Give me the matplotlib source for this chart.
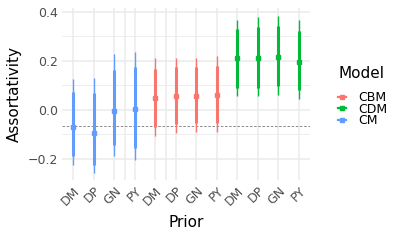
import numpy as np
import matplotlib.pyplot as plt
from matplotlib.lines import Line2D

# dados
priors = ["DM", "DP", "GN", "PY"] * 3
models = ["CM"] * 4 + ["CBM"] * 4 + ["CDM"] * 4
medians = [-0.068, -0.095, -0.003, 0.003,
           0.048, 0.055, 0.055, 0.059,
           0.210, 0.212, 0.216, 0.197]
inner_lo = [-0.187, -0.224, -0.143, -0.154,
            -0.068, -0.057, -0.054, -0.054,
            0.091, 0.091, 0.096, 0.080]
inner_hi = [0.075, 0.068, 0.163, 0.175,
            0.168, 0.173, 0.173, 0.180,
            0.330, 0.337, 0.341, 0.323]
outer_lo = [-0.224, -0.258, -0.188, -0.204,
            -0.106, -0.095, -0.091, -0.090,
            0.055, 0.055, 0.059, 0.044]
outer_hi = [0.127, 0.132, 0.229, 0.235,
            0.210, 0.213, 0.210, 0.221,
            0.368, 0.380, 0.385, 0.366]
ref_line = -0.064

cores = {"CBM": "#F8766D", "CDM": "#00BA38", "CM": "#619CFF"}

fig = plt.figure(figsize=(4, 2.4), dpi=100)
ax = fig.add_axes([0.155, 0.25, 0.62, 0.717])

x = np.arange(len(priors))
for i in x:
    c = cores[models[i]]
    ax.plot([i, i], [outer_lo[i], outer_hi[i]], color=c, lw=1.0, solid_capstyle="butt", zorder=3)
    ax.plot([i, i], [inner_lo[i], inner_hi[i]], color=c, lw=2.2, solid_capstyle="butt", zorder=3)
    ax.plot(i, medians[i], "s", color=c, ms=3.5, zorder=4)

ax.axhline(ref_line, color="#777777", lw=0.6, ls=(0, (3, 2)), zorder=2)

# grade estilo ggplot theme_minimal
ax.set_yticks([-0.2, 0.0, 0.2, 0.4])
ax.set_yticklabels(["\u22120.2", "0.0", "0.2", "0.4"])
for yv in [-0.1, 0.1, 0.3]:
    ax.axhline(yv, color="#EBEBEB", lw=0.6, zorder=0)
for yv in [-0.2, 0.0, 0.2, 0.4]:
    ax.axhline(yv, color="#EBEBEB", lw=1.1, zorder=0)
for xv in list(x) + [2.5, 4.5]:
    ax.axvline(xv, color="#EBEBEB", lw=1.1, zorder=0)

ax.set_xticks(x)
ax.set_xticklabels(priors, rotation=45, ha="right", rotation_mode="anchor")
ax.set_xlim(-0.55, 11.55)
ax.set_ylim(-0.286, 0.416)
for s in ax.spines.values():
    s.set_visible(False)
ax.tick_params(length=0, labelsize=9, labelcolor="#4D4D4D", pad=3)
ax.set_xlabel("Prior", fontsize=11, labelpad=5)
ax.set_ylabel("Assortativity", fontsize=11, labelpad=4)

handles = [Line2D([], [], color=cores[m], lw=1.6, marker="s", ms=3) for m in ["CBM", "CDM", "CM"]]
leg = fig.legend(handles, ["CBM", "CDM", "CM"], title="Model", loc="upper left",
                 bbox_to_anchor=(0.833, 0.745), frameon=False, fontsize=9,
                 title_fontsize=11, handlelength=0.6, handletextpad=1.0,
                 labelspacing=-0.1, borderaxespad=0)
leg._legend_box.align = "left"
leg._legend_box.sep = 7

plt.savefig("out.png", dpi=100)
